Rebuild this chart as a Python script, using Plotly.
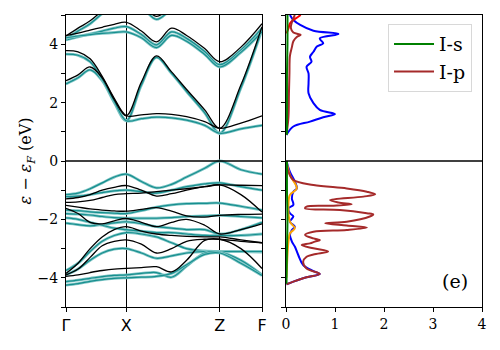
import plotly.graph_objects as go
from plotly.subplots import make_subplots

# ==============================
# BAND STRUCTURE DATA
# ==============================
k = [0, 0.2, 0.4, 0.6, 0.8, 1.0, 1.25, 1.5, 1.75, 2.0, 2.3, 2.55, 2.9, 3.25]
k_ticks = [0, 1.0, 2.55, 3.25]
k_labels = ["Γ", "X", "Z", "F"]

# black bands (conduction)
cb1 = [2.75, 2.95, 3.22, 2.85, 2.1, 1.55, 2.7, 3.6, 3.05, 2.45, 1.75, 1.12, 2.6, 4.6]
cb2 = [3.78, 3.74, 3.5, 2.9, 2.15, 1.55, 1.58, 1.62, 1.6, 1.52, 1.35, 1.12, 1.3, 1.55]
cb3 = [4.3, 4.38, 4.48, 4.58, 4.68, 4.75, 4.45, 4.08, 4.55, 4.3, 3.85, 3.4, 3.9, 4.7]
cb4 = [4.28, 4.55, 4.8, 5.15, 5.5, 5.7, 5.4, 4.95, 5.3, 5.6, 5.7, 5.6, 5.4, 5.3]
# black bands (valence)
vb1 = [-1.3, -1.25, -1.15, -1.0, -0.9, -0.84, -1.0, -1.2, -1.12, -1.0, -0.88, -0.82, -1.15, -1.75]
vb2 = [-1.42, -1.4, -1.35, -1.25, -1.15, -1.12, -1.1, -1.05, -1.0, -0.95, -0.88, -0.82, -0.83, -0.84]
vb3 = [-1.52, -1.58, -1.64, -1.68, -1.71, -1.72, -1.66, -1.6, -1.72, -1.88, -1.92, -1.86, -1.83, -1.82]
vb4 = [-1.62, -1.8, -2.1, -2.15, -2.05, -1.97, -2.1, -2.25, -2.1, -2.0, -2.2, -2.5, -2.35, -2.15]
vb5 = [-3.85, -3.5, -3.0, -2.6, -2.35, -2.25, -2.4, -2.5, -2.55, -2.58, -2.6, -2.6, -2.7, -2.8]
vb6 = [-3.9, -3.7, -3.3, -2.9, -2.75, -2.7, -2.85, -3.15, -3.0, -2.75, -2.68, -2.68, -2.75, -2.8]
vb7 = [-3.95, -3.9, -3.82, -3.75, -3.7, -3.68, -3.65, -3.62, -3.8, -3.4, -2.72, -2.68, -3.0, -3.68]

# teal bands (conduction)
tc1 = [2.64, 2.85, 3.12, 2.75, 2.0, 1.38, 2.6, 3.55, 3.0, 2.38, 1.65, 0.95, 2.5, 4.5]
tc2 = [3.66, 3.62, 3.4, 2.8, 2.05, 1.38, 1.45, 1.5, 1.48, 1.4, 1.22, 0.95, 1.1, 1.22]
tc3 = [4.15, 4.25, 4.35, 4.45, 4.55, 4.6, 4.33, 3.98, 4.42, 4.2, 3.75, 3.3, 3.8, 4.55]
tc4 = [4.18, 4.45, 4.7, 5.05, 5.4, 5.6, 5.3, 4.85, 5.2, 5.5, 5.6, 5.5, 5.3, 5.2]
tc5 = [4.22, 4.28, 4.33, 4.37, 4.4, 4.42, 4.22, 3.88, 4.3, 4.1, 3.65, 3.22, 3.72, 4.42]
# teal bands (valence)
tv1 = [-1.15, -1.1, -0.95, -0.75, -0.55, -0.45, -0.7, -0.92, -0.8, -0.55, -0.25, 0.0, -0.3, -0.45]
tv2 = [-1.22, -1.2, -1.15, -1.08, -1.02, -1.0, -1.05, -1.1, -1.0, -0.88, -0.78, -0.75, -0.88, -1.0]
tv3 = [-1.68, -1.7, -1.74, -1.77, -1.79, -1.8, -1.7, -1.58, -1.5, -1.46, -1.45, -1.44, -1.55, -1.68]
tv4 = [-1.8, -1.82, -1.85, -1.9, -1.94, -1.96, -1.96, -1.96, -1.94, -1.9, -1.88, -1.86, -1.9, -1.95]
tv5 = [-2.13, -2.18, -2.22, -2.18, -2.12, -2.08, -2.15, -2.25, -2.3, -2.35, -2.35, -2.5, -2.35, -2.1]
tv6 = [-3.75, -3.5, -3.1, -2.75, -2.55, -2.45, -2.5, -2.6, -2.8, -3.0, -3.08, -3.1, -3.1, -3.12]
tv7 = [-3.9, -3.7, -3.4, -3.15, -3.02, -3.0, -3.15, -3.33, -3.25, -3.15, -3.1, -3.1, -3.1, -3.1]
tv8 = [-4.13, -4.08, -4.02, -3.96, -3.92, -3.9, -3.85, -3.82, -3.98, -3.6, -3.15, -3.12, -3.4, -3.9]
tv9 = [-4.25, -4.2, -4.12, -4.06, -4.02, -4.0, -3.98, -3.95, -3.85, -3.55, -3.2, -3.15, -3.5, -3.92]
tv10 = [-1.95, -2.0, -2.1, -2.2, -2.3, -2.35, -2.4, -2.45, -2.45, -2.5, -2.55, -2.55, -2.55, -2.5]

black_bands = [cb1, cb2, cb3, cb4, vb1, vb2, vb3, vb4, vb5, vb6, vb7]
teal_bands = [tc1, tc2, tc3, tc4, tc5, tv1, tv2, tv3, tv4, tv5, tv6, tv7, tv8, tv9, tv10]

# ==============================
# DOS DATA
# ==============================
blue_e_v = [0, -0.37, -0.7, -0.94, -1.05, -1.28, -1.5, -1.62, -1.79, -1.9, -2.08, -2.25,
            -2.36, -2.53, -2.76, -2.93, -3.22, -3.56, -3.77, -3.87, -3.98, -4.13, -4.22]
blue_d_v = [0.01, 0.08, 0.18, 0.22, 0.15, 0.12, 0.15, 0.05, 0.08, 0.15, 0.08, 0.18,
            0.12, 0.08, 0.12, 0.18, 0.25, 0.35, 0.56, 0.69, 0.42, 0.15, 0.01]
blue_e_c = [0.89, 1.18, 1.35, 1.5, 1.61, 1.75, 1.98, 2.32, 2.66, 3.0, 3.23, 3.4, 3.57,
            3.74, 3.92, 4.03, 4.2, 4.35, 4.46, 4.66, 4.83, 5.0]
blue_d_c = [0.01, 0.15, 0.49, 0.76, 1.0, 0.69, 0.56, 0.46, 0.46, 0.46, 0.42, 0.52, 0.49,
            0.56, 0.63, 0.76, 0.69, 1.07, 0.56, 0.29, 0.15, 0.08]

ip_e_v = [-0.02, -0.37, -0.65, -0.82, -0.94, -1.05, -1.14, -1.22, -1.34, -1.42, -1.48, -1.53,
          -1.56, -1.62, -1.68, -1.79, -1.83, -1.9, -2.08, -2.13, -2.21, -2.28, -2.36, -2.42,
          -2.53, -2.65, -2.71, -2.76, -2.82, -2.88, -2.99, -3.1, -3.2, -3.28, -3.45, -3.68,
          -3.87, -3.98, -4.13, -4.22]
ip_d_v = [0.01, 0.05, 0.15, 0.56, 1.24, 1.65, 1.82, 1.58, 0.9, 1.07, 1.34, 0.97,
          0.42, 0.39, 1.1, 1.65, 1.78, 1.71, 1.24, 0.8, 1.24, 1.65, 1.24, 0.56,
          0.39, 0.56, 0.69, 0.59, 0.49, 0.32, 0.56, 0.86, 0.56, 0.42, 0.35, 0.42,
          0.69, 0.42, 0.15, 0.01]
ip_e_c = [0.9, 1.5, 2.3, 3.0, 3.6, 3.9, 4.1, 4.25, 4.32, 4.4, 4.55, 4.75, 5.0]
ip_d_c = [0.01, 0.05, 0.06, 0.07, 0.08, 0.12, 0.15, 0.22, 0.3, 0.15, 0.1, 0.12, 0.18]

orange_e = [0, -0.48, -0.94, -1.16, -1.51, -2.08, -2.3, -2.48, -2.76, -3.22, -4.0]
orange_d = [0.01, 0.08, 0.22, 0.08, 0.05, 0.08, 0.18, 0.08, 0.05, 0.03, 0.01]

red_e = [4.37, 4.54, 4.71, 4.83, 4.94, 5.0]
red_d = [0.01, 0.05, 0.08, 0.15, 0.25, 0.3]

is_e_v = [0, -1.0, -2.0, -3.0, -4.2]
is_d_v = [0.02, 0.02, 0.03, 0.02, 0.01]
is_e_c = [0.9, 2.0, 3.0, 4.0, 5.0]
is_d_c = [0.02, 0.02, 0.02, 0.03, 0.03]

# ==============================
# PLOT
# ==============================
FONT = "DejaVu Serif"

fig = make_subplots(rows=1, cols=2, horizontal_spacing=24 / 416)

for band in teal_bands:
    fig.add_trace(go.Scatter(x=k, y=band, mode="lines", line_shape="spline",
                             line=dict(color="#80c6c6", width=2.8),
                             showlegend=False, hoverinfo="skip"), row=1, col=1)
    fig.add_trace(go.Scatter(x=k, y=band, mode="lines", line_shape="spline",
                             line=dict(color="#178f8f", width=1.2),
                             showlegend=False, hoverinfo="skip"), row=1, col=1)
for band in black_bands:
    fig.add_trace(go.Scatter(x=k, y=band, mode="lines", line_shape="spline",
                             line=dict(color="black", width=1.3),
                             showlegend=False, hoverinfo="skip"), row=1, col=1)

# DOS panel
def dos_line(x, y, color, name=None, legend=False):
    fig.add_trace(go.Scatter(x=x, y=y, mode="lines", line_shape="spline",
                             line=dict(color=color, width=2),
                             name=name, showlegend=legend), row=1, col=2)

dos_line(blue_d_v, blue_e_v, "blue")
dos_line(blue_d_c, blue_e_c, "blue")
dos_line(red_d, red_e, "red")
dos_line(orange_d, orange_e, "orange")
dos_line(ip_d_c, ip_e_c, "#a52a2a")
dos_line(ip_d_v, ip_e_v, "#a52a2a")
dos_line(is_d_c, is_e_c, "green")
dos_line(is_d_v, is_e_v, "green", "I-s", True)
fig.add_trace(go.Scatter(x=[None], y=[None], mode="lines",
                         line=dict(color="#a52a2a", width=2), name="I-p"), row=1, col=2)

# Fermi level
for xr, yr in [("x domain", "y"), ("x2 domain", "y2")]:
    fig.add_shape(type="line", xref=xr, yref=yr, x0=0, x1=1, y0=0, y1=0,
                  line=dict(color="black", width=1.3))

axis_style = dict(showline=True, mirror=True, linecolor="black", linewidth=1,
                  ticks="outside", ticklen=4, tickcolor="black", zeroline=False)

y_vals = list(range(-5, 6))
y_text = ["" if v % 2 else str(v).replace("-", "−") for v in y_vals]

fig.update_xaxes(range=[0, 3.25], tickvals=k_ticks, ticktext=k_labels,
                 showgrid=True, gridcolor="black", gridwidth=1,
                 tickfont=dict(family="DejaVu Sans", size=16, color="black"),
                 **axis_style, row=1, col=1)
fig.update_xaxes(range=[0, 4], tickvals=[0, 1, 2, 3, 4], showgrid=False,
                 tickfont=dict(family=FONT, size=14, color="black"),
                 **axis_style, row=1, col=2)
fig.update_yaxes(range=[-5, 5], tickvals=y_vals, ticktext=y_text, showgrid=False,
                 tickfont=dict(family=FONT, size=14, color="black"),
                 title=dict(text="<i>ε</i> − <i>ε</i><sub><i>F</i></sub> (eV)",
                            font=dict(family=FONT, size=16, color="black"), standoff=1),
                 **axis_style, row=1, col=1)
fig.update_yaxes(range=[-5, 5], tickvals=y_vals, showticklabels=False, showgrid=False,
                 **axis_style, row=1, col=2)

fig.add_annotation(x=3.45, y=-4.1, xref="x2", yref="y2", text="(e)", showarrow=False,
                   font=dict(family=FONT, size=19, color="black"))

# page body adds an 8px offset, so the figure is 8px smaller than the window
fig.update_layout(
    width=492, height=342,
    margin=dict(l=58, r=18, t=7, b=43),
    plot_bgcolor="white", paper_bgcolor="white",
    legend=dict(x=0.976, y=0.969, xanchor="right", yanchor="top",
                bgcolor="white", bordercolor="#d8d8d8", borderwidth=1,
                tracegroupgap=0, itemwidth=40,
                font=dict(family=FONT, size=19, color="black")),
)

fig.write_html("out.html")
